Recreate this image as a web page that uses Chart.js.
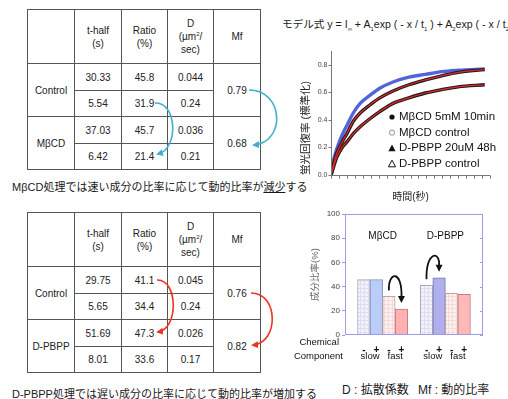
<!DOCTYPE html>
<html>
<head>
<meta charset="utf-8">
<script src="https://cdn.jsdelivr.net/npm/chart.js@4.4.0/dist/chart.umd.min.js"></script>
<style>
  html, body { margin: 0; padding: 0; background: #fff; }
  body { width: 508px; height: 399px; position: relative; overflow: hidden;
         font-family: "Liberation Sans", Arial, "Noto Sans CJK JP", sans-serif; color: #1a1a1a; }
  .abs { position: absolute; white-space: nowrap; }
  .plot { position: absolute; z-index: 3; }
  table.t { position: absolute; border-collapse: collapse; table-layout: fixed; width: 234px;
            font-size: 10px; color: #222; }
  table.t td { border: 1px solid #555; text-align: center; padding: 0; line-height: 13px; }
  .cap { font-size: 11px; }
  svg.arrows { position: absolute; left: 0; top: 0; z-index: 1; pointer-events: none; }
</style>
</head>
<body>
<div class="plot" style="left:300px; top:40px; width:200px; height:165px;"><canvas id="lineChart" width="200" height="165"></canvas></div>
<div class="plot" style="left:285px; top:205px; width:215px; height:160px;"><canvas id="barChart" width="215" height="160"></canvas></div>

<table class="t" id="tblTop" style="left:27px; top:9px;"></table>
<table class="t" id="tblBottom" style="left:27px; top:212px;"></table>

<div class="abs cap" style="left:12px; top:178px;">MβCD処理では速い成分の比率に応じて動的比率が<u>減少</u>する</div>
<div class="abs cap" style="left:12px; top:385px;">D-PBPP処理では遅い成分の比率に応じて動的比率が<u>増加</u>する</div>

<div class="abs" style="left:282px; top:16px; font-size:10.6px;">モデル式 y = I<sub style="font-size:6px">∞</sub> + A<sub style="font-size:6px">1</sub>exp ( - x / t<sub style="font-size:6px">1</sub> ) + A<sub style="font-size:6px">2</sub>exp ( - x / t<sub style="font-size:6px">2</sub> )</div>

<div class="abs" style="left:342px; top:380px; font-size:12px;">D : 拡散係数</div>
<div class="abs" style="left:418px; top:380px; font-size:12px;">Mf : 動的比率</div>

<svg class="arrows" width="290" height="399">
  <defs>
    <marker id="hc" markerUnits="userSpaceOnUse" markerWidth="7" markerHeight="7" refX="5" refY="3.5" orient="auto">
      <path d="M0,0 L7,3.5 L0,7 z" fill="#3db1cc"/>
    </marker>
    <marker id="hr" markerUnits="userSpaceOnUse" markerWidth="7" markerHeight="7" refX="5" refY="3.5" orient="auto">
      <path d="M0,0 L7,3.5 L0,7 z" fill="#ee3322"/>
    </marker>
  </defs>
  <path d="M155,103 C176,101 180,148 158,154" fill="none" stroke="#3db1cc" stroke-width="1.6" marker-end="url(#hc)"/>
  <path d="M249,90 C284,90 286,142 254,145" fill="none" stroke="#3db1cc" stroke-width="1.6" marker-end="url(#hc)"/>
  <path d="M157,280 C178,279 179,329 158,332" fill="none" stroke="#ee3322" stroke-width="1.6" marker-end="url(#hr)"/>
  <path d="M251,293 C279,293 279,343 253,345" fill="none" stroke="#ee3322" stroke-width="1.6" marker-end="url(#hr)"/>
</svg>

<script>
// ---- table values ----
var tHalfMbcd = ['30.33', '5.54', '37.03', '6.42'];
var ratioMbcd = [45.8, 31.9, 45.7, 21.4];
var dMbcd = ['0.044', '0.24', '0.036', '0.21'];
var mfMbcd = ['0.79', '0.68'];

var tHalfPbpp = ['29.75', '5.65', '51.69', '8.01'];
var ratioPbpp = [41.1, 34.4, 47.3, 33.6];
var dPbpp = ['0.045', '0.24', '0.026', '0.17'];
var mfPbpp = ['0.76', '0.82'];

// ---- recovery curves (time in s, normalised recovery) ----
var timeSec = [0, 5, 11, 21, 30, 42, 55, 74, 92, 117, 147, 178, 209, 240, 290];
var recoveryBlue = [0, 0.11, 0.19, 0.29, 0.36, 0.45, 0.52, 0.58, 0.63, 0.675, 0.71, 0.73, 0.75, 0.76, 0.77];
var recoveryMid = [0, 0.08, 0.16, 0.24, 0.30, 0.39, 0.45, 0.51, 0.56, 0.61, 0.655, 0.69, 0.72, 0.745, 0.765];
var recoveryLow = [0, 0.06, 0.13, 0.20, 0.24, 0.30, 0.35, 0.41, 0.46, 0.52, 0.56, 0.595, 0.62, 0.64, 0.655];
var recoveryTicks = [0, 0.2, 0.4, 0.6, 0.8];
var timeTicks = [0, 15, 30, 45, 60, 75, 90, 105, 120, 135, 150, 165, 180, 195, 210, 225, 240, 255, 270, 285, 300];
var legendLabels = ['MβCD 5mM 10min', 'MβCD control', 'D-PBPP 20uM 48h', 'D-PBPP control'];

// ---- component ratio bars ----
var chemicalLabels = ['', '-', '+', '-', '+', '', '-', '+', '-', '+', ''];
var componentLabels = ['slow', 'fast', 'slow', 'fast'];
var groupLabels = ['MβCD', 'D-PBPP'];
var barValues = [null, ratioMbcd[0], ratioMbcd[2], ratioMbcd[1], ratioMbcd[3], null,
                 ratioPbpp[0], ratioPbpp[2], ratioPbpp[1], ratioPbpp[3], null];

var FONT = '"Liberation Sans", Arial, "Noto Sans CJK JP", sans-serif';
Chart.defaults.font.family = FONT;
Chart.defaults.animation = false;

function pts(ys) {
  return timeSec.map(function (t, i) { return { x: t, y: ys[i] }; });
}

// axes + legend for the recovery plot, placed with the chart's scales
var recoveryDecor = {
  id: 'recoveryDecor',
  afterDraw: function (chart) {
    var ctx = chart.ctx, a = chart.chartArea;
    var xs = chart.scales.x, ys = chart.scales.y;
    ctx.save();
    ctx.strokeStyle = '#777';
    ctx.lineWidth = 1;
    var ax = Math.round(a.left) + 0.5, ay = Math.round(a.bottom) + 0.5;
    ctx.beginPath();
    ctx.moveTo(ax, Math.round(a.top)); ctx.lineTo(ax, ay);
    ctx.lineTo(Math.round(a.right), ay);
    ctx.stroke();
    ctx.font = '7px ' + FONT;
    ctx.fillStyle = '#444';
    ctx.textAlign = 'right';
    ctx.textBaseline = 'middle';
    recoveryTicks.forEach(function (v) {
      var py = Math.round(ys.getPixelForValue(v)) + 0.5;
      ctx.beginPath(); ctx.moveTo(ax - 3, py); ctx.lineTo(ax, py); ctx.stroke();
      ctx.fillText(v.toFixed(1), ax - 4, py);
    });
    timeTicks.forEach(function (v) {
      var px = Math.round(xs.getPixelForValue(v)) + 0.5;
      ctx.beginPath(); ctx.moveTo(px, ay); ctx.lineTo(px, ay + 3); ctx.stroke();
    });
    // axis titles
    ctx.fillStyle = '#222';
    ctx.font = '10px ' + FONT;
    ctx.textAlign = 'center';
    ctx.fillText('時間(秒)', (a.left + a.right) / 2, a.bottom + 22);
    ctx.save();
    ctx.translate(6, a.bottom);
    ctx.rotate(-Math.PI / 2);
    ctx.textAlign = 'left';
    ctx.font = '10.5px ' + FONT;
    ctx.fillText('蛍光回復率 (標準化)', 0, 0);
    ctx.restore();
    // legend
    var x0 = 92, y0 = 77, dy = 15.6;
    ctx.font = '11.5px ' + FONT;
    ctx.textAlign = 'left';
    for (var i = 0; i < legendLabels.length; i++) {
      var ly = y0 + i * dy;
      ctx.strokeStyle = '#111';
      ctx.fillStyle = '#111';
      ctx.beginPath();
      if (i < 2) {
        ctx.arc(x0, ly, 2.6, 0, Math.PI * 2);
      } else {
        ctx.moveTo(x0 - 3.6, ly + 3); ctx.lineTo(x0 + 3.6, ly + 3); ctx.lineTo(x0, ly - 3.6); ctx.closePath();
      }
      if (i % 2 === 0) ctx.fill();
      else { if (i === 1) ctx.strokeStyle = '#8888aa'; ctx.stroke(); }
      ctx.fillText(legendLabels[i], x0 + 7, ly);
    }
    ctx.restore();
  }
};

var lineChart = new Chart(document.getElementById('lineChart'), {
  type: 'line',
  data: {
    datasets: [
      { data: pts(recoveryMid), borderColor: '#e8262a', borderWidth: 1.2, order: 0 },
      { data: pts(recoveryLow), borderColor: '#e8262a', borderWidth: 1.2, order: 0 },
      { data: pts(recoveryMid), borderColor: '#1c1c1c', borderWidth: 3.4, order: 1 },
      { data: pts(recoveryLow), borderColor: '#1c1c1c', borderWidth: 3.4, order: 1 },
      { data: pts(recoveryBlue), borderColor: '#5264d8', borderWidth: 3.4, order: 2 }
    ]
  },
  options: {
    responsive: false,
    devicePixelRatio: 1,
    layout: { padding: { left: 0, top: 11, right: 10, bottom: 0 } },
    elements: { point: { radius: 0 }, line: { cubicInterpolationMode: 'monotone' } },
    plugins: { legend: { display: false }, tooltip: { enabled: false } },
    scales: {
      x: {
        type: 'linear', min: 0, max: 300,
        ticks: { display: false },
        grid: { display: false },
        border: { display: false },
        afterFit: function (s) { s.height = 30; }
      },
      y: {
        min: 0, max: 0.9,
        ticks: { display: false },
        grid: { display: false },
        border: { display: false },
        afterFit: function (s) { s.width = 31; }
      }
    }
  },
  plugins: [recoveryDecor]
});

// light hatched fills
function gridPattern(base, line) {
  var c = document.createElement('canvas');
  c.width = 4; c.height = 4;
  var g = c.getContext('2d');
  g.fillStyle = base; g.fillRect(0, 0, 4, 4);
  g.fillStyle = line; g.fillRect(3, 0, 1, 4); g.fillRect(0, 3, 4, 1);
  return g.createPattern(c, 'repeat');
}
var lav = gridPattern('#f2f2fc', '#dedef2');
var pnk = gridPattern('#fff0f0', '#f6dada');
var barFill = [null, lav, '#b9cdf8', pnk, '#ffb0b0', null, lav, '#b0b0ee', pnk, '#ffb8b8', null];
var barEdge = [null, '#a8a8b8', '#8a96b8', '#c0a0a0', '#c08080', null, '#a8a8b8', '#7878a8', '#c0a0a0', '#c08080', null];

var barDecor = {
  id: 'barDecor',
  afterDraw: function (chart) {
    var ctx = chart.ctx, a = chart.chartArea;
    var xs = chart.scales.x, ys = chart.scales.y;
    ctx.save();
    // frame + inward ticks on the right
    ctx.strokeStyle = '#9d9de6';
    ctx.lineWidth = 1;
    ctx.strokeRect(Math.round(a.left) + 0.5, Math.round(a.top) + 0.5,
                   Math.round(a.right - a.left) - 1, Math.round(a.bottom - a.top) - 1);
    ys.ticks.forEach(function (t) {
      var ty = Math.round(ys.getPixelForValue(t.value)) + 0.5;
      ctx.beginPath(); ctx.moveTo(a.right - 3, ty); ctx.lineTo(a.right, ty); ctx.stroke();
    });
    // group names
    ctx.fillStyle = '#111';
    ctx.font = '10px ' + FONT;
    ctx.textAlign = 'center';
    ctx.textBaseline = 'middle';
    var gy = ys.getPixelForValue(82);
    ctx.fillText(groupLabels[0], (xs.getPixelForValue(2) + xs.getPixelForValue(3)) / 2, gy);
    ctx.fillText(groupLabels[1], (xs.getPixelForValue(7) + xs.getPixelForValue(8)) / 2, gy);
    // component row
    ctx.font = '9.5px ' + FONT;
    var rowY = a.bottom + 21;
    [1, 3, 6, 8].forEach(function (s, i) {
      ctx.fillText(componentLabels[i], (xs.getPixelForValue(s) + xs.getPixelForValue(s + 1)) / 2, rowY);
    });
    ctx.textAlign = 'right';
    ctx.fillText('Chemical', a.left - 6, a.bottom + 7);
    ctx.fillText('Component', a.left - 2, rowY);
    // curved arrows between bars
    ctx.strokeStyle = '#111';
    ctx.fillStyle = '#111';
    ctx.lineWidth = 1.8;
    [[3, 4], [6, 7]].forEach(function (p) {
      var x1 = xs.getPixelForValue(p[0]), x2 = xs.getPixelForValue(p[1]);
      var y1 = ys.getPixelForValue(barValues[p[0]]) - 6;
      var y2 = ys.getPixelForValue(barValues[p[1]]) - 7;
      var top = Math.min(y1, y2) - 15;
      ctx.beginPath();
      ctx.moveTo(x1, y1);
      ctx.bezierCurveTo(x1 - 1, top - 4, x2 + 1, top - 6, x2, y2 - 5);
      ctx.stroke();
      ctx.beginPath();
      ctx.moveTo(x2 - 3.5, y2 - 6); ctx.lineTo(x2 + 3.5, y2 - 6); ctx.lineTo(x2, y2 + 1); ctx.closePath();
      ctx.fill();
    });
    ctx.restore();
  }
};

var barChart = new Chart(document.getElementById('barChart'), {
  type: 'bar',
  data: {
    labels: chemicalLabels,
    datasets: [{
      data: barValues,
      backgroundColor: barFill,
      borderColor: barEdge,
      borderWidth: 1,
      barPercentage: 1,
      categoryPercentage: 1
    }]
  },
  options: {
    responsive: false,
    devicePixelRatio: 1,
    layout: { padding: { left: 25, top: 9, right: 17, bottom: 0 } },
    plugins: { legend: { display: false }, tooltip: { enabled: false } },
    scales: {
      x: {
        ticks: { font: { size: 10, weight: 'bold' }, color: '#111', padding: 1, autoSkip: false, maxRotation: 0 },
        grid: { display: false },
        border: { display: false },
        afterFit: function (s) { s.height = 30; }
      },
      y: {
        min: 0, max: 100,
        ticks: { stepSize: 20, font: { size: 8 }, color: '#444', padding: 2 },
        grid: { drawOnChartArea: false, tickLength: 3, color: '#9d9de6' },
        border: { display: false },
        title: { display: true, text: '成分比率(%)', font: { size: 9.5 }, padding: 0 },
        afterFit: function (s) { s.width = 35; }
      }
    }
  },
  plugins: [barDecor]
});

function makeTable(id, names, tHalf, ratio, d, mf) {
  var h = '<colgroup><col style="width:47px"><col style="width:47px"><col style="width:46px"><col style="width:46px"><col style="width:47px"></colgroup>';
  h += '<tr style="height:54px"><td></td><td>t-half<br>(s)</td><td>Ratio<br>(%)</td><td>D<br>(µm<sup style="font-size:6px;line-height:0">2</sup>/<br>sec)</td><td>Mf</td></tr>';
  var heights = [27, 26, 27, 26];
  for (var i = 0; i < 4; i++) {
    h += '<tr style="height:' + heights[i] + 'px">';
    if (i % 2 === 0) h += '<td rowspan="2">' + names[i / 2] + '</td>';
    h += '<td>' + tHalf[i] + '</td><td>' + ratio[i] + '</td><td>' + d[i] + '</td>';
    if (i % 2 === 0) h += '<td rowspan="2">' + mf[i / 2] + '</td>';
    h += '</tr>';
  }
  document.getElementById(id).innerHTML = h;
}
makeTable('tblTop', ['Control', 'MβCD'], tHalfMbcd, ratioMbcd, dMbcd, mfMbcd);
makeTable('tblBottom', ['Control', 'D-PBPP'], tHalfPbpp, ratioPbpp, dPbpp, mfPbpp);
</script>
</body>
</html>
